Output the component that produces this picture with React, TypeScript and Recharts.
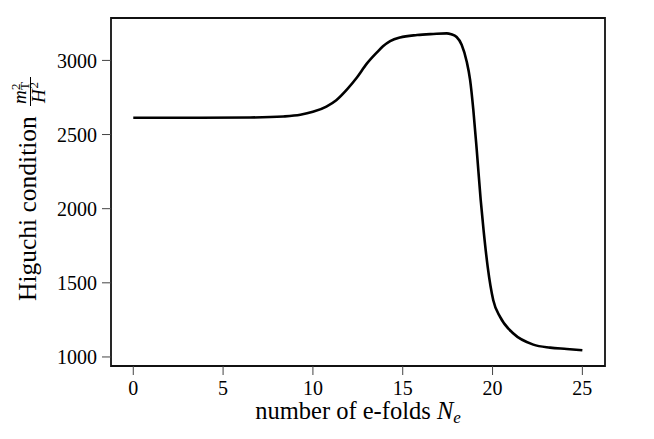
import { LineChart, Line, XAxis, YAxis, ReferenceArea } from 'recharts';

// number of e-folds (x) and Higuchi condition m_T^2 / H^2 (y)
const efolds = [0, 3.7, 6.5, 8.35, 9.3, 10.0, 10.75, 11.3, 11.9, 12.45, 13.0, 13.55, 13.9, 14.3, 14.85, 15.8, 16.7, 17.45, 17.7, 18.0, 18.28, 18.56, 18.75, 18.93, 19.12, 19.34, 19.5, 19.73, 20.04, 20.42, 21.16, 22.27, 23.2, 24.13, 25];
const higuchi = [2613, 2613, 2615, 2622, 2633, 2653, 2689, 2732, 2805, 2885, 2978, 3052, 3095, 3130, 3155, 3171, 3178, 3182, 3176, 3158, 3106, 2993, 2869, 2667, 2396, 2059, 1856, 1608, 1383, 1270, 1158, 1083, 1063, 1054, 1045];

const xTicks = [0, 5, 10, 15, 20, 25];
const yTicks = [1000, 1500, 2000, 2500, 3000];
const xDomain = [-1.24, 26.26];
const yDomain = [939, 3286];

const data = efolds.map((x, i) => ({ x, y: higuchi[i] }));

const FONT = '"Liberation Serif", "Times New Roman", serif';

function XLabel() {
  return (
    <text x={350} y={411} textAnchor="middle" fontFamily={FONT} fontSize={24.5} fill="#000">
      number of e-folds <tspan fontStyle="italic">N</tspan>
      <tspan fontStyle="italic" fontSize={17} dy={4}>e</tspan>
    </text>
  );
}

function YLabel() {
  // rotated frame: u runs up the page, v runs right
  return (
    <g transform="translate(28, 293) rotate(-90)" fontFamily={FONT} fill="#000">
      <text x={0} y={0} fontSize={25.5}>Higuchi condition</text>
      <text x={197} y={-10} fontSize={19} fontStyle="italic">m</text>
      <text x={211} y={-16} fontSize={13}>2</text>
      <text x={211} y={-7} fontSize={13}>T</text>
      <line x1={195} y1={-5.5} x2={224} y2={-5.5} stroke="#000" strokeWidth={1} />
      <text x={198} y={8.5} fontSize={19} fontStyle="italic">H</text>
      <text x={212.5} y={1.5} fontSize={13}>2</text>
    </g>
  );
}

export default function App() {
  return (
    <div style={{ fontFamily: FONT }}>
      <LineChart width={646} height={431} data={data} margin={{ top: 10, right: 49, bottom: 0, left: 0 }}>
        <XAxis
          dataKey="x"
          type="number"
          domain={xDomain}
          allowDataOverflow
          ticks={xTicks}
          tickSize={9}
          tickMargin={6}
          height={73}
          axisLine={false}
          tickLine={{ stroke: '#444', strokeWidth: 1 }}
          tick={{ fontSize: 20, fill: '#000', fontFamily: FONT }}
          label={<XLabel />}
        />
        <YAxis
          type="number"
          domain={yDomain}
          allowDataOverflow
          ticks={yTicks}
          tickSize={9}
          tickMargin={5}
          width={103}
          axisLine={false}
          tickLine={{ stroke: '#444', strokeWidth: 1 }}
          tick={{ fontSize: 20, fill: '#000', fontFamily: FONT }}
          label={<YLabel />}
        />
        <ReferenceArea
          x1={xDomain[0]}
          x2={xDomain[1]}
          y1={yDomain[0]}
          y2={yDomain[1]}
          fill="none"
          fillOpacity={0}
          stroke="#111"
          strokeWidth={1.8}
        />
        <Line
          dataKey="y"
          type="monotone"
          stroke="#000"
          strokeWidth={2.6}
          dot={false}
          isAnimationActive={false}
        />
      </LineChart>
    </div>
  );
}
